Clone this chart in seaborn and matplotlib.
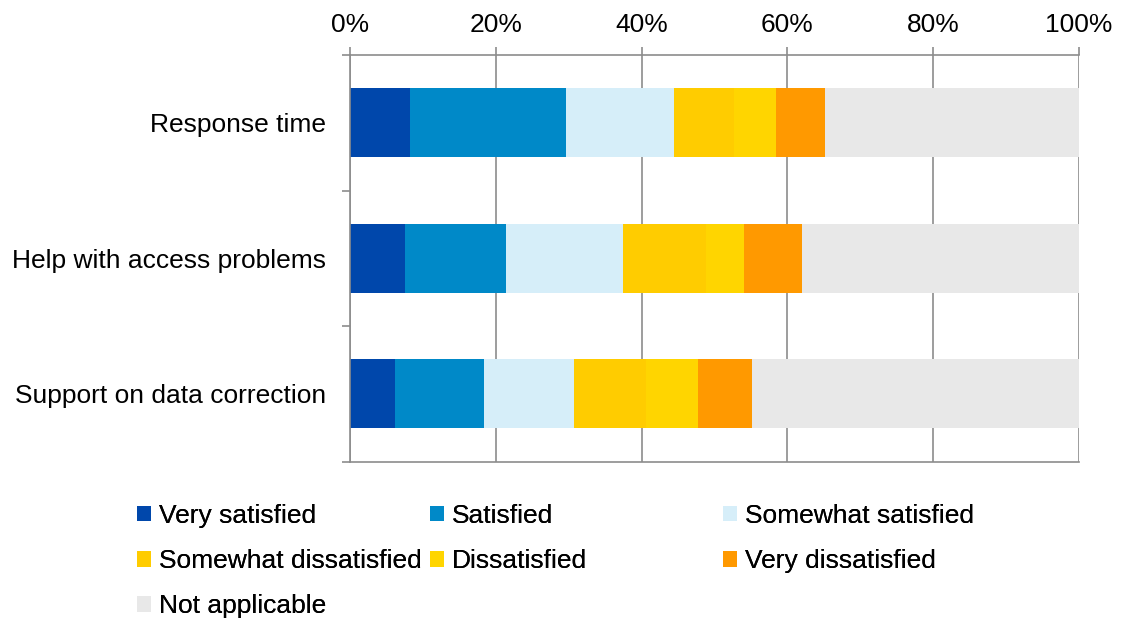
import numpy as np
import pandas as pd
import matplotlib
matplotlib.use("Agg")
import matplotlib.pyplot as plt
from matplotlib.patches import Patch
import seaborn as sns

categories = ["Response time", "Help with access problems", "Support on data correction"]
series_names = ["Very satisfied", "Satisfied", "Somewhat satisfied",
                "Somewhat dissatisfied", "Dissatisfied", "Very dissatisfied",
                "Not applicable"]
very_satisfied = [8.2, 7.5, 6.2]
satisfied = [21.4, 13.9, 12.2]
somewhat_satisfied = [14.9, 16.0, 12.3]
somewhat_dissatisfied = [8.2, 11.4, 9.9]
dissatisfied = [5.8, 5.3, 7.1]
very_dissatisfied = [6.7, 7.9, 7.5]
not_applicable = [34.8, 38.0, 44.8]
x_ticks = [0, 20, 40, 60, 80, 100]
x_tick_labels = ["0%", "20%", "40%", "60%", "80%", "100%"]

colors = ["#0047AB", "#0089C8", "#D6EEF9", "#FFCC00", "#FFD500", "#FF9900", "#E8E8E8"]

sns.set_theme(style="white")
plt.rcParams["font.family"] = ["Liberation Sans", "DejaVu Sans"]
plt.rcParams["text.color"] = "black"
FS = 19.0

series = [very_satisfied, satisfied, somewhat_satisfied, somewhat_dissatisfied,
          dissatisfied, very_dissatisfied, not_applicable]
cum = np.cumsum(np.array(series), axis=0)

fig = plt.figure(figsize=(11.26, 6.19), dpi=100)
ax = fig.add_axes([350 / 1126, 1 - 461.5 / 619, (1079 - 350) / 1126, (461.5 - 55) / 619])

# draw cumulative bars from the last series back to the first
for i in range(len(series) - 1, -1, -1):
    df = pd.DataFrame({"cat": categories, "val": cum[i]})
    sns.barplot(data=df, x="val", y="cat", orient="h", color=colors[i],
                width=0.51, saturation=1, ax=ax, zorder=2, linewidth=0)

ax.set_xlim(0, 100)
ax.set_ylim(2.5, -0.5)
ax.set_xlabel("")
ax.set_ylabel("")

grey = "#8c8c8c"
ax.xaxis.tick_top()
ax.set_xticks(x_ticks)
ax.set_xticklabels(x_tick_labels, fontsize=FS, color="black")
ax.tick_params(axis="x", which="major", direction="out", length=6, width=1.2,
               color=grey, pad=7, top=True, bottom=False)
ax.xaxis.grid(True, color=grey, linewidth=1.2, zorder=0)
ax.set_axisbelow(True)

ax.set_yticks([0, 1, 2])
ax.set_yticklabels(categories, fontsize=FS, color="black")
ax.tick_params(axis="y", which="major", length=0, pad=17.5)
ax.set_yticks([-0.5, 0.5, 1.5, 2.5], minor=True)
ax.tick_params(axis="y", which="minor", direction="out", length=6, width=1.2,
               color=grey, left=True)

for side in ["left", "top", "bottom"]:
    ax.spines[side].set_visible(True)
    ax.spines[side].set_color(grey)
    ax.spines[side].set_linewidth(1.2)
ax.spines["right"].set_visible(False)

handles = [Patch(facecolor=c, edgecolor="none", label=n) for c, n in zip(colors, series_names)]
columns = [[0, 3, 6], [1, 4], [2, 5]]
col_x = [137, 430, 723]
for idxs, xpix in zip(columns, col_x):
    leg = fig.legend(handles=[handles[i] for i in idxs], loc="upper left",
                     bbox_to_anchor=(xpix / 1126, 1 - 504 / 619), frameon=False,
                     fontsize=FS, handlelength=0.53, handleheight=0.53,
                     handletextpad=0.3, labelspacing=0.8, borderpad=0,
                     borderaxespad=0, labelcolor="black")
    fig.add_artist(leg)

fig.savefig("out.png", dpi=100)
